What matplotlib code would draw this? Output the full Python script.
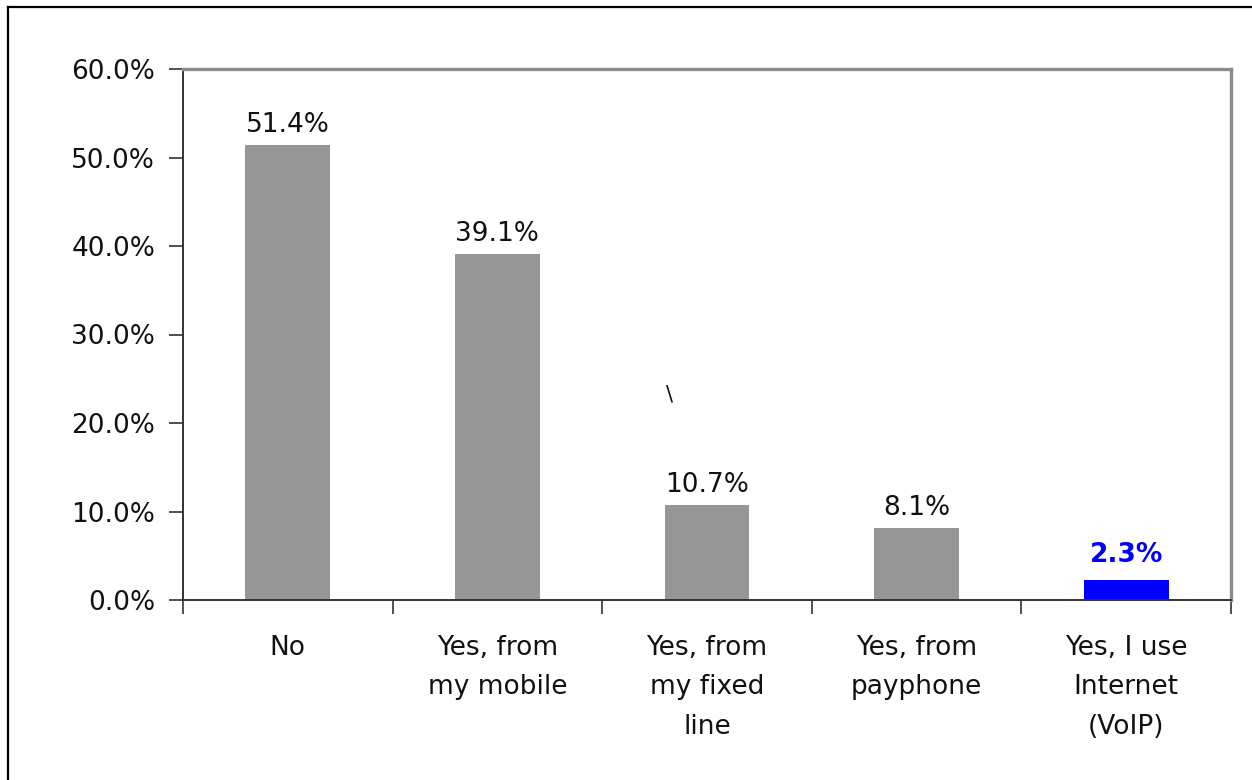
import matplotlib
matplotlib.use("Agg")
import matplotlib.pyplot as plt
from matplotlib.lines import Line2D
from matplotlib.ticker import FixedLocator, PercentFormatter

categories = ["No", "Yes, from\nmy mobile", "Yes, from\nmy fixed\nline",
              "Yes, from\npayphone", "Yes, I use\nInternet\n(VoIP)"]
values = [51.4, 39.1, 10.7, 8.1, 2.3]
bar_colors = ["#969696", "#969696", "#969696", "#969696", "#0000ff"]
label_colors = ["#111111", "#111111", "#111111", "#111111", "#0000ff"]
label_weights = ["normal", "normal", "normal", "normal", "bold"]
label_offsets = [5, 5, 5, 5, 8.5]
y_ticks = [0, 10, 20, 30, 40, 50, 60]

plt.rcParams["font.family"] = ["DejaVu Sans"]
FS = 19

fig = plt.figure(figsize=(12.52, 7.8), dpi=100)
fig.patch.set_facecolor("white")

# outer frame of the chart (left and top edges)
fig.add_artist(Line2D([8 / 1252, 8 / 1252], [0, 1 - 7 / 780],
                      transform=fig.transFigure, color="black", lw=1.6))
fig.add_artist(Line2D([8 / 1252, 1], [1 - 7 / 780, 1 - 7 / 780],
                      transform=fig.transFigure, color="black", lw=1.6))

ax = fig.add_axes([183 / 1252, 1 - 600 / 780, (1231 - 183) / 1252, (600 - 69) / 780])

x = list(range(len(categories)))
bars = ax.bar(x, values, width=0.405, color=bar_colors, zorder=2)

for xi, v, c, w, off in zip(x, values, label_colors, label_weights, label_offsets):
    ax.annotate(f"{v:.1f}%", (xi, v), xytext=(0, off), textcoords="offset points",
                ha="center", va="bottom", fontsize=FS, color=c, fontweight=w)

# stray mark above the third column
ax.text(1.82, 23.2, "\\", fontsize=FS - 4, color="#111111", ha="center", va="center")

ax.set_xlim(-0.5, len(categories) - 0.5)
ax.set_ylim(0, 60)
ax.yaxis.set_major_locator(FixedLocator(y_ticks))
ax.yaxis.set_major_formatter(PercentFormatter(decimals=1))

ax.set_xticks(x)
ax.set_xticklabels(categories, fontsize=FS, linespacing=1.67, color="#111111")
ax.set_xticks([i - 0.5 for i in range(len(categories) + 1)], minor=True)
ax.tick_params(axis="x", which="major", length=0, pad=25)
ax.tick_params(axis="x", which="minor", length=10, width=1.2, color="#333333",
               direction="out")
ax.tick_params(axis="y", length=10, width=1.2, color="#333333", direction="out",
               labelsize=FS, pad=10, labelcolor="#111111")

for side in ("left", "bottom"):
    ax.spines[side].set_color("#333333")
    ax.spines[side].set_linewidth(1.4)
for side in ("top", "right"):
    ax.spines[side].set_color("#8c8c8c")
    ax.spines[side].set_linewidth(2.4)

fig.savefig("out.png", dpi=100, facecolor="white")
